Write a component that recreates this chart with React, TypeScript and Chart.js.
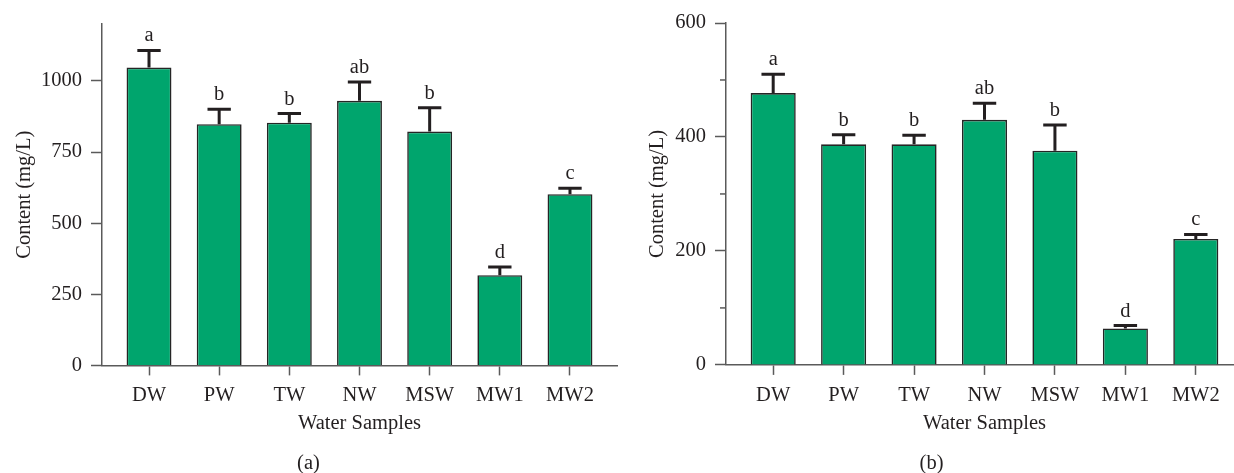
import React, { useEffect, useRef } from "react";
import { Chart, registerables } from "chart.js";

Chart.register(...registerables);

const categories = ["DW", "PW", "TW", "NW", "MSW", "MW1", "MW2"];
const letters = ["a", "b", "b", "ab", "b", "d", "c"];

const contentA = [1047, 848, 853, 930, 822, 317, 602];
const errorA = [60, 52, 32, 66, 84, 29, 21];
const ticksA = [0, 250, 500, 750, 1000];

const contentB = [477, 387, 387, 430, 376, 64, 221];
const errorB = [33, 17, 16, 29, 45, 5, 8];
const ticksB = [0, 200, 400, 600];
const minorTicksB = [100, 300, 500];

const FONT = "'Liberation Serif', 'Times New Roman', serif";
const TEXT = "#231f20";
const AXIS = "#5a5a5a";
const BAR = "#00a56d";

const errorBarPlugin = {
  id: "errorBars",
  afterDatasetsDraw(chart: any, _args: any, opts: any) {
    const { ctx } = chart;
    const x = chart.scales.x;
    const y = chart.scales.y;
    const meta = chart.getDatasetMeta(0);
    ctx.save();
    ctx.strokeStyle = TEXT;
    ctx.lineWidth = 3;
    ctx.fillStyle = TEXT;
    ctx.font = `20.5px ${FONT}`;
    ctx.textAlign = "center";
    ctx.textBaseline = "alphabetic";
    (opts.values as number[]).forEach((v, i) => {
      const px = x.getPixelForValue(i);
      const yTop = y.getPixelForValue(v);
      const yErr = y.getPixelForValue(v + opts.errors[i]);
      const half = meta.data[i].width * 0.26;
      ctx.beginPath();
      ctx.moveTo(px, yTop);
      ctx.lineTo(px, yErr);
      ctx.moveTo(px - half, yErr);
      ctx.lineTo(px + half, yErr);
      ctx.stroke();
      ctx.fillText(opts.letters[i], px, yErr - 9);
    });
    ctx.restore();
  },
};

const minorTickPlugin = {
  id: "minorTicks",
  afterDraw(chart: any, _args: any, opts: any) {
    if (!opts || !opts.values) return;
    const { ctx } = chart;
    const y = chart.scales.y;
    const left = chart.chartArea.left;
    ctx.save();
    ctx.strokeStyle = AXIS;
    ctx.lineWidth = 1.5;
    (opts.values as number[]).forEach((v) => {
      const py = y.getPixelForValue(v);
      ctx.beginPath();
      ctx.moveTo(left - 6, py);
      ctx.lineTo(left, py);
      ctx.stroke();
    });
    ctx.restore();
  },
};

function makeConfig(p: {
  values: number[];
  errors: number[];
  ticks: number[];
  minor?: number[];
  yMax: number;
  xMax: number;
  yWidth: number;
  yTitlePad: number;
  padTop: number;
  padRight: number;
  xHeight: number;
  panel: string;
}): any {
  return {
    type: "bar",
    data: {
      datasets: [
        {
          data: p.values.map((v, i) => ({ x: i, y: v })),
          backgroundColor: BAR,
          borderColor: "#252525",
          borderWidth: 1.6,
          categoryPercentage: 1,
          barPercentage: 0.64,
        },
      ],
    },
    plugins: [errorBarPlugin, minorTickPlugin],
    options: {
      responsive: false,
      animation: false,
      devicePixelRatio: 1,
      events: [],
      layout: { padding: { top: p.padTop, right: p.padRight, left: 0, bottom: 0 } },
      plugins: {
        legend: { display: false },
        tooltip: { enabled: false },
        title: {
          display: true,
          position: "bottom",
          text: p.panel,
          color: TEXT,
          font: { family: FONT, size: 20.5, weight: "normal" },
          padding: { top: 3, bottom: -3 },
        },
        errorBars: { values: p.values, errors: p.errors, letters },
        minorTicks: { values: p.minor },
      },
      scales: {
        x: {
          type: "linear",
          min: -0.67,
          max: p.xMax,
          offset: false,
          afterBuildTicks: (axis: any) => {
            axis.ticks = categories.map((_, i) => ({ value: i }));
          },
          afterFit: (axis: any) => {
            axis.height = p.xHeight;
          },
          ticks: {
            callback: (v: number) => categories[Math.round(v)] ?? "",
            color: TEXT,
            font: { family: FONT, size: 20.5 },
            padding: 8,
            maxRotation: 0,
            autoSkip: false,
          },
          grid: {
            offset: false,
            drawOnChartArea: false,
            drawTicks: true,
            tickLength: 10,
            tickColor: AXIS,
            tickWidth: 1.5,
          },
          border: { display: true, color: AXIS, width: 1.5 },
          title: {
            display: true,
            text: "Water Samples",
            color: TEXT,
            font: { family: FONT, size: 20.5 },
            padding: { top: 0, bottom: 12 },
          },
        },
        y: {
          min: 0,
          max: p.yMax,
          afterBuildTicks: (axis: any) => {
            axis.ticks = p.ticks.map((v) => ({ value: v }));
          },
          afterFit: (axis: any) => {
            axis.width = p.yWidth;
          },
          ticks: {
            callback: (v: number) => String(v),
            color: TEXT,
            font: { family: FONT, size: 20.5 },
            padding: 9,
          },
          grid: {
            drawOnChartArea: false,
            drawTicks: true,
            tickLength: 11,
            tickColor: AXIS,
            tickWidth: 1.5,
          },
          border: { display: true, color: AXIS, width: 1.5 },
          title: {
            display: true,
            text: "Content (mg/L)",
            color: TEXT,
            font: { family: FONT, size: 20.5 },
            padding: { top: p.yTitlePad, bottom: 0 },
          },
        },
      },
    },
  };
}

export default function App() {
  const refA = useRef<HTMLCanvasElement>(null);
  const refB = useRef<HTMLCanvasElement>(null);

  useEffect(() => {
    const a = new Chart(
      refA.current as HTMLCanvasElement,
      makeConfig({
        values: contentA,
        errors: errorA,
        ticks: ticksA,
        yMax: 1200,
        xMax: 6.67,
        yWidth: 102,
        yTitlePad: 12,
        padTop: 24,
        padRight: 3,
        xHeight: 83,
        panel: "(a)",
      })
    );
    const b = new Chart(
      refB.current as HTMLCanvasElement,
      makeConfig({
        values: contentB,
        errors: errorB,
        ticks: ticksB,
        minor: minorTicksB,
        yMax: 600,
        xMax: 6.67,
        yWidth: 106,
        yTitlePad: 25,
        padTop: 23,
        padRight: 25,
        xHeight: 83.5,
        panel: "(b)",
      })
    );
    return () => {
      a.destroy();
      b.destroy();
    };
  }, []);

  return (
    <div
      style={{
        position: "absolute",
        left: 0,
        top: 0,
        width: 1234,
        height: 473,
        overflow: "hidden",
        background: "#fff",
      }}
    >
      <canvas
        ref={refA}
        width={620}
        height={473}
        style={{ position: "absolute", left: 0, top: 0, width: 620, height: 473 }}
      />
      <canvas
        ref={refB}
        width={648}
        height={473}
        style={{ position: "absolute", left: 620, top: 0, width: 648, height: 473 }}
      />
    </div>
  );
}
